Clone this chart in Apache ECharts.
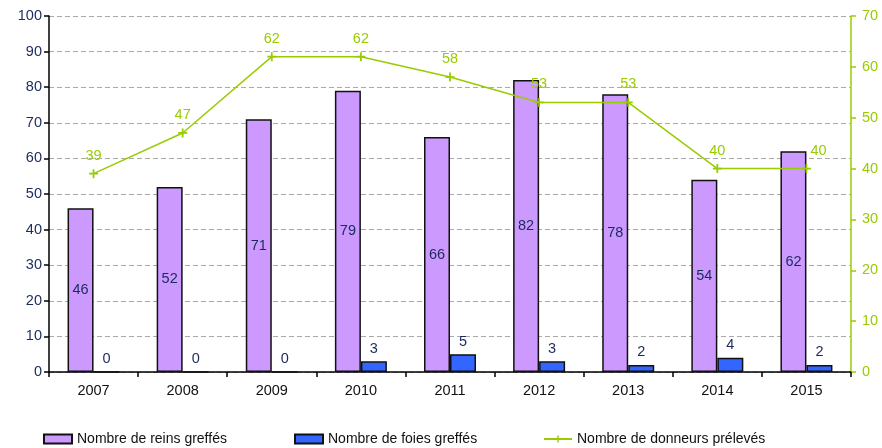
<!DOCTYPE html>
<html>
<head>
<meta charset="utf-8">
<script src="https://cdn.jsdelivr.net/npm/echarts@6/dist/echarts.min.js"></script>
<style>
  html, body { margin: 0; padding: 0; background: #fff; }
  #chart { width: 882px; height: 448px; }
</style>
</head>
<body>
<div id="chart"></div>
<script>
// Greffes et prélèvements par année
const years = ['2007', '2008', '2009', '2010', '2011', '2012', '2013', '2014', '2015'];
const reinsGreffes = [46, 52, 71, 79, 66, 82, 78, 54, 62];
const foiesGreffes = [0, 0, 0, 3, 5, 3, 2, 4, 2];
const donneursPreleves = [39, 47, 62, 62, 58, 53, 53, 40, 40];

const leftTicks = { min: 0, max: 100, interval: 10 };
const rightTicks = { min: 0, max: 70, interval: 10 };

const NAME_REINS = 'Nombre de reins greffés';
const NAME_FOIES = 'Nombre de foies greffés';
const NAME_DONNEURS = 'Nombre de donneurs prélevés';

const FONT = '"Liberation Sans", Arial, sans-serif';
const NAVY = '#1b2a5c';
const GREEN = '#99cc00';

const plusSymbol = 'path://M-0.8,-4 L0.8,-4 L0.8,-0.8 L4,-0.8 L4,0.8 L0.8,0.8 L0.8,4 L-0.8,4 L-0.8,0.8 L-4,0.8 L-4,-0.8 L-0.8,-0.8 Z';

// one legend block per series, so each entry sits at its own column
function legendAt(left, name, icon) {
  const entry = icon ? { name, icon } : { name };
  return {
    top: 427,
    left,
    itemWidth: 28,
    itemHeight: 9,
    itemGap: 4,
    textStyle: { fontFamily: FONT, fontSize: 14, color: '#111' },
    data: [entry]
  };
}

const chart = echarts.init(document.getElementById('chart'), null, { renderer: 'canvas' });

chart.setOption({
  animation: false,
  textStyle: { fontFamily: FONT },
  grid: { left: 49, right: 31, top: 16, bottom: 76, containLabel: false },
  legend: [
    legendAt(38, NAME_REINS, 'rect'),
    legendAt(289, NAME_FOIES, 'rect'),
    legendAt(538, NAME_DONNEURS)
  ],
  xAxis: {
    type: 'category',
    data: years,
    axisLine: { lineStyle: { color: '#000', width: 1.5 } },
    axisTick: { show: true, length: 5, lineStyle: { color: '#000', width: 1.5 } },
    axisLabel: { color: '#111', fontSize: 14.5, margin: 11, fontFamily: FONT }
  },
  yAxis: [
    {
      type: 'value',
      min: leftTicks.min, max: leftTicks.max, interval: leftTicks.interval,
      axisLine: { show: true, lineStyle: { color: '#000', width: 1.5 } },
      axisTick: { show: true, length: 5, lineStyle: { color: '#000', width: 1.5 } },
      axisLabel: { color: NAVY, fontSize: 14.5, margin: 7, fontFamily: FONT },
      splitLine: { show: true, lineStyle: { color: '#aaa', type: [5, 3], width: 1 } }
    },
    {
      type: 'value',
      position: 'right',
      min: rightTicks.min, max: rightTicks.max, interval: rightTicks.interval,
      axisLine: { show: true, lineStyle: { color: GREEN, width: 1.5 } },
      axisTick: { show: true, length: 5, lineStyle: { color: GREEN, width: 1.5 } },
      axisLabel: { color: GREEN, fontSize: 14.5, margin: 11, fontFamily: FONT },
      splitLine: { show: false }
    }
  ],
  series: [
    {
      name: NAME_REINS,
      type: 'bar',
      yAxisIndex: 0,
      data: reinsGreffes,
      barWidth: 26,
      barGap: '0%',
      itemStyle: { color: '#cc99ff', borderColor: '#111', borderWidth: 1.5 },
      label: { show: true, position: 'inside', color: NAVY, fontSize: 14.5, fontFamily: FONT }
    },
    {
      name: NAME_FOIES,
      type: 'bar',
      yAxisIndex: 0,
      data: foiesGreffes,
      barWidth: 26,
      barGap: '0%',
      itemStyle: { color: '#3366ff', borderColor: '#111', borderWidth: 1.5 },
      label: { show: true, position: 'top', distance: 5, color: NAVY, fontSize: 14.5, fontFamily: FONT }
    },
    {
      name: NAME_DONNEURS,
      type: 'line',
      yAxisIndex: 1,
      data: donneursPreleves.map((v, i) => i === donneursPreleves.length - 1
        ? { value: v, label: { offset: [12, 0] } }
        : v),
      symbol: plusSymbol,
      symbolSize: 9,
      showAllSymbol: true,
      lineStyle: { color: GREEN, width: 1.5 },
      itemStyle: { color: GREEN },
      label: { show: true, position: 'top', distance: 6, color: GREEN, fontSize: 14.5, fontFamily: FONT },
      z: 5
    }
  ]
});
</script>
</body>
</html>
